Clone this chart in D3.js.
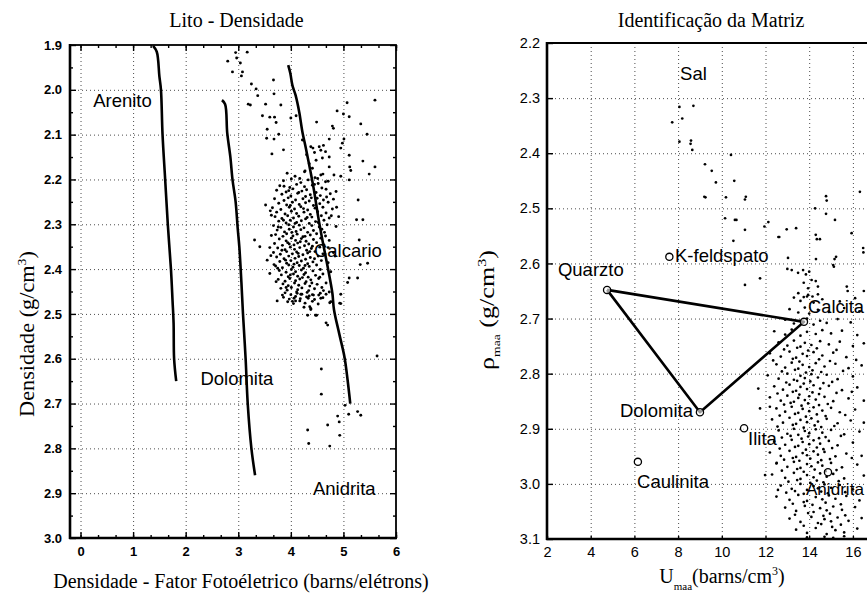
<!DOCTYPE html>
<html><head><meta charset="utf-8">
<script src="https://cdn.jsdelivr.net/npm/d3@7"></script>
<style>body{margin:0;background:#fff} svg{display:block}</style>
</head><body>
<svg id="c" width="867" height="596"></svg>
<script>
// ---------------- DATA ----------------
const leftXTicks = [0,1,2,3,4,5,6];
const leftYTicks = [1.9,2.0,2.1,2.2,2.3,2.4,2.5,2.6,2.7,2.8,2.9,3.0];
const rightXTicks = [2,4,6,8,10,12,14,16];
const rightYTicks = [2.2,2.3,2.4,2.5,2.6,2.7,2.8,2.9,3.0,3.1];

// Lithology lines (Pe, density)
const arenitoLine = [[1.38,1.902],[1.45,1.915],[1.50,1.97],[1.53,2.00],[1.56,2.10],[1.61,2.20],[1.66,2.30],[1.72,2.40],[1.75,2.47],[1.77,2.52],[1.78,2.60],[1.82,2.65]];
const dolomitaLine = [[2.69,2.023],[2.75,2.032],[2.79,2.096],[2.85,2.15],[2.89,2.20],[2.95,2.25],[2.99,2.31],[3.02,2.35],[3.06,2.43],[3.09,2.50],[3.14,2.60],[3.18,2.70],[3.25,2.80],[3.32,2.86]];
const calcarioLine = [[3.95,1.945],[3.99,1.963],[4.03,1.99],[4.09,2.012],[4.16,2.05],[4.22,2.094],[4.28,2.127],[4.37,2.18],[4.44,2.224],[4.52,2.283],[4.60,2.335],[4.70,2.395],[4.79,2.454],[4.82,2.49],[4.92,2.544],[5.02,2.596],[5.08,2.648],[5.13,2.70]];

const leftLabels = [
  {t:"Arenito", x:0.24, y:2.038},
  {t:"Dolomita", x:2.28, y:2.659},
  {t:"Calcario", x:4.44, y:2.373},
  {t:"Anidrita", x:4.42, y:2.904}
];

// Left scatter: Pe (x), density (y)
const leftSparse = [[2.95,1.917],[3.17,1.916],[2.80,1.936],[2.97,1.929],[3.04,1.94],[2.89,1.96],[3.08,1.96],[3.06,1.969],[3.25,1.987],[3.34,1.998],[3.67,1.978],[3.37,2.013],[3.68,2.009],[3.19,2.032],[3.23,2.034],[3.52,2.032],[3.81,2.034],[3.46,2.058],[3.60,2.061],[3.69,2.061],[3.72,2.073],[3.55,2.088],[3.54,2.108],[3.68,2.110],[3.77,2.099],[3.64,2.143],[3.86,2.134],
[4.49,2.072],[4.88,2.047],[5.07,2.029],[5.00,2.054],[5.11,2.060],[5.33,2.076],[5.60,2.023],[5.45,2.099],[4.79,2.081],[4.81,2.086],[4.73,2.110],[5.01,2.110],[4.98,2.119],[4.95,2.130],[5.11,2.146],[5.37,2.159],[5.60,2.172],[5.12,2.172],[5.49,2.188],[5.14,2.180],[5.11,2.201],[5.28,2.246],[5.25,2.29],[5.37,2.29],[5.30,2.335],[5.46,2.387],[5.32,2.39],[5.27,2.42],[5.11,2.42],[5.08,2.43],[4.00,2.063],[4.10,2.058],
[4.22,2.112],[4.38,2.127],[4.42,2.13],[4.54,2.127],[4.57,2.135],[4.62,2.124],[4.66,2.138],[4.73,2.15],[4.60,2.152],[4.48,2.157],[4.35,2.165],[4.41,2.175],[4.26,2.183],[4.57,2.19],[4.51,2.198],[4.73,2.172],[4.82,2.19],[4.95,2.193],[4.66,2.205],[4.30,2.145],[4.45,2.14],
[3.74,2.471],[4.09,2.471],[4.36,2.484],[4.38,2.49],[4.32,2.503],[4.49,2.503],[4.74,2.475],[4.93,2.476],[4.67,2.52],[4.70,2.525],[4.58,2.623],[4.58,2.679],[4.89,2.728],[4.92,2.741],[4.70,2.748],[5.10,2.724],[5.27,2.718],[5.33,2.726],[5.03,2.704],[4.32,2.759],[4.34,2.789],[4.74,2.795],[4.93,2.771],[5.64,2.594],
[3.84,2.458],[4.06,2.465],[4.19,2.456],[4.35,2.46],[4.41,2.457],[4.53,2.458],[4.57,2.465],[4.67,2.456],[4.76,2.473],[4.95,2.456],[4.95,2.477],[4.47,2.503],[4.38,2.488],
[3.31,2.335],[3.41,2.35],[3.52,2.257],[3.61,2.27],[3.63,2.28],[3.55,2.38],[3.62,2.37],[3.60,2.41],[3.68,2.39]];

const leftBlob = [[3.93,2.186],[4.08,2.193],[4.27,2.181],[4.46,2.196],[4.61,2.188],
[3.86,2.203],[4.01,2.199],[4.19,2.207],[4.33,2.201],[4.52,2.209],[4.71,2.204],
[3.79,2.214],[3.98,2.218],[4.11,2.211],[4.26,2.216],[4.41,2.213],[4.59,2.219],
[3.73,2.224],[3.91,2.228],[4.04,2.221],[4.21,2.226],[4.30,2.223],[4.48,2.229],[4.67,2.222],[4.86,2.227],
[3.83,2.233],[4.00,2.237],[4.13,2.231],[4.28,2.238],[4.37,2.234],[4.56,2.236],[4.75,2.232],
[3.69,2.243],[3.87,2.247],[3.95,2.241],[4.09,2.246],[4.23,2.243],[4.35,2.248],[4.50,2.242],[4.62,2.246],[4.81,2.244],
[3.77,2.253],[3.92,2.257],[4.03,2.251],[4.16,2.256],[4.28,2.252],[4.43,2.258],[4.55,2.254],[4.71,2.251],
[3.65,2.263],[3.81,2.267],[3.97,2.262],[4.07,2.266],[4.19,2.261],[4.32,2.268],[4.46,2.264],[4.61,2.262],[4.79,2.266],
[3.73,2.273],[3.89,2.277],[4.01,2.271],[4.11,2.276],[4.25,2.273],[4.37,2.278],[4.51,2.272],[4.67,2.275],
[3.70,2.283],[3.83,2.287],[3.94,2.281],[4.05,2.286],[4.15,2.282],[4.28,2.288],[4.40,2.284],[4.58,2.281],[4.73,2.286],[4.91,2.283],
[3.77,2.293],[3.91,2.297],[3.99,2.291],[4.11,2.296],[4.20,2.292],[4.35,2.298],[4.47,2.294],[4.63,2.291],
[3.67,2.303],[3.81,2.307],[3.96,2.301],[4.05,2.306],[4.16,2.302],[4.25,2.308],[4.40,2.303],[4.54,2.306],[4.69,2.301],[4.86,2.305],
[3.74,2.313],[3.88,2.317],[3.97,2.311],[4.10,2.316],[4.19,2.312],[4.32,2.318],[4.43,2.314],[4.59,2.311],
[3.71,2.323],[3.85,2.327],[3.92,2.321],[4.04,2.326],[4.12,2.322],[4.23,2.328],[4.37,2.324],[4.49,2.321],[4.66,2.326],
[3.78,2.333],[3.91,2.337],[4.01,2.331],[4.09,2.336],[4.20,2.332],[4.29,2.338],[4.43,2.334],[4.57,2.331],[4.73,2.336],
[3.69,2.343],[3.84,2.347],[3.94,2.341],[4.06,2.346],[4.13,2.342],[4.26,2.348],[4.34,2.344],[4.49,2.341],[4.63,2.346],
[3.75,2.353],[3.89,2.357],[3.99,2.351],[4.07,2.356],[4.17,2.352],[4.30,2.358],[4.39,2.354],[4.55,2.351],
[3.67,2.363],[3.80,2.367],[3.92,2.361],[4.03,2.366],[4.11,2.362],[4.23,2.368],[4.32,2.364],[4.46,2.361],[4.61,2.366],[4.81,2.363],
[3.73,2.373],[3.87,2.377],[3.96,2.371],[4.08,2.376],[4.15,2.372],[4.28,2.378],[4.37,2.374],[4.52,2.371],
[3.79,2.383],[3.92,2.387],[4.00,2.381],[4.12,2.386],[4.20,2.382],[4.32,2.388],[4.42,2.384],[4.58,2.381],[4.71,2.386],
[3.71,2.393],[3.84,2.397],[3.96,2.391],[4.04,2.396],[4.16,2.392],[4.24,2.398],[4.35,2.394],[4.49,2.391],
[3.78,2.403],[3.91,2.407],[4.01,2.401],[4.09,2.406],[4.20,2.402],[4.28,2.408],[4.42,2.404],[4.56,2.401],[4.76,2.406],
[3.82,2.413],[3.95,2.417],[4.05,2.411],[4.13,2.416],[4.25,2.412],[4.33,2.418],[4.47,2.414],[4.61,2.411],
[3.76,2.423],[3.89,2.427],[3.98,2.421],[4.09,2.426],[4.17,2.422],[4.29,2.428],[4.38,2.424],[4.53,2.421],
[3.85,2.433],[3.95,2.437],[4.07,2.431],[4.15,2.436],[4.27,2.432],[4.36,2.438],[4.50,2.434],[4.67,2.431],
[3.81,2.443],[3.93,2.447],[4.01,2.441],[4.13,2.446],[4.21,2.442],[4.34,2.448],[4.45,2.444],[4.59,2.441],
[3.89,2.453],[4.00,2.457],[4.11,2.451],[4.21,2.456],[4.31,2.452],[4.43,2.458],[4.56,2.454],[4.73,2.451],
[3.86,2.463],[3.97,2.467],[4.09,2.461],[4.18,2.466],[4.30,2.462],[4.45,2.468],[4.61,2.464],
[3.94,2.473],[4.05,2.477],[4.17,2.471],[4.27,2.476],[4.41,2.472],[4.52,2.478],
[3.87,2.215],[4.15,2.229],[4.39,2.241],[3.99,2.258],[4.24,2.265],[3.86,2.291],[4.08,2.298],[4.31,2.285],[4.52,2.296],[3.76,2.306],[4.02,2.318],[4.27,2.327],[3.97,2.344],[4.18,2.339],[4.41,2.349],[3.83,2.358],[4.14,2.365],[4.36,2.361],[3.90,2.380],[4.06,2.389],[4.27,2.392],[4.45,2.377],[3.75,2.398],[3.99,2.413],[4.22,2.419],[4.40,2.431],[3.91,2.441],[4.12,2.454],[4.33,2.465],[4.03,2.472],[4.64,2.318],[4.71,2.352],[4.77,2.281],[4.84,2.371],[4.55,2.418],[3.63,2.325],[3.60,2.352],[4.87,2.262],[4.68,2.239],[3.72,2.428],[4.62,2.448],[4.25,2.485],[3.96,2.225],[4.45,2.211],[4.17,2.198]];

// Right chart: matrix minerals (Umaa, rho_maa)
const minerals = [
  {n:"Quarzto", x:4.75, y:2.648},
  {n:"K-feldspato", x:7.6, y:2.588},
  {n:"Calcita", x:13.76, y:2.706},
  {n:"Dolomita", x:9.0, y:2.87},
  {n:"Ilita", x:11.02, y:2.899},
  {n:"Caulinita", x:6.16, y:2.96},
  {n:"Anidrita", x:14.86, y:2.979}
];
const triangleOrder = ["Quarzto","Calcita","Dolomita","Quarzto"];
const rightLabels = [
  {t:"Sal", x:8.09, y:2.267},
  {t:"K-feldspato", x:7.86, y:2.597},
  {t:"Quarzto", x:2.50, y:2.623},
  {t:"Calcita", x:13.95, y:2.690},
  {t:"Dolomita", x:5.34, y:2.879},
  {t:"Ilita", x:11.2, y:2.930},
  {t:"Caulinita", x:6.12, y:3.008},
  {t:"Anidrita", x:13.85, y:3.020}
];

const rightSparse = [[8.06,2.316],[8.70,2.314],[7.73,2.344],[8.19,2.337],[8.06,2.379],[8.59,2.377],[8.65,2.394],[8.57,2.383],[9.23,2.42],[9.54,2.432],[9.73,2.453],[10.42,2.403],[10.57,2.45],[9.20,2.479],[9.25,2.48],[10.19,2.48],[11.06,2.484],[11.10,2.479],[10.15,2.518],[10.60,2.521],[10.67,2.521],[11.06,2.539],[10.53,2.559],[11.95,2.533],[12.13,2.525],[12.59,2.552],[12.97,2.538],[14.30,2.548],[14.35,2.556],[14.27,2.50],[14.77,2.478],[14.77,2.51],[15.18,2.521],[15.94,2.545],[16.32,2.47],[16.47,2.572],[11.06,2.639],[11.75,2.627],[13.03,2.59],[13.0,2.61],[13.2,2.612],[13.49,2.617],[13.72,2.612],[13.85,2.62],[14.0,2.615],[14.11,2.63],[14.3,2.632],[13.75,2.635],[13.95,2.645],[14.40,2.642],[14.31,2.592],[15.13,2.606],[15.16,2.592],[15.72,2.642],[15.76,2.65],[16.5,2.65],[13.40,2.536],[12.63,2.552],[14.49,2.556],[15.23,2.588],[15.1,2.603],[16.48,2.58],[14.80,2.486],
[13.5,2.654],[13.75,2.661],[13.95,2.657],[14.15,2.660],[14.4,2.656],
[11.67,2.827],[11.75,2.863],[11.98,2.984],[12.57,3.011],[12.51,2.962],[12.2,2.86]];

const rightCloud = [[13.3,2.662],[13.6,2.668],[13.9,2.660],[14.2,2.671],[14.6,2.665],[15.4,2.669],[16.1,2.663],
[13.1,2.683],[13.5,2.689],[13.8,2.680],[14.0,2.691],[14.4,2.684],[14.9,2.688],[15.6,2.681],[16.3,2.687],
[12.9,2.702],[13.3,2.709],[13.9,2.700],[14.2,2.711],[14.5,2.704],[14.8,2.708],[15.3,2.701],[15.9,2.707],
[12.4,2.723],[12.9,2.729],[13.2,2.720],[13.6,2.731],[13.9,2.724],[14.3,2.728],[14.6,2.721],[15.0,2.727],[15.5,2.722],[16.2,2.730],
[12.6,2.743],[13.0,2.749],[13.3,2.740],[13.6,2.751],[13.8,2.744],[14.1,2.748],[14.5,2.741],[14.9,2.747],[15.4,2.742],[16.0,2.750],[16.5,2.745],
[12.2,2.763],[12.7,2.769],[13.1,2.760],[13.4,2.771],[13.7,2.764],[13.9,2.768],[14.2,2.761],[14.6,2.767],[15.1,2.762],[15.7,2.770],
[12.5,2.783],[12.9,2.789],[13.2,2.780],[13.5,2.791],[13.7,2.784],[14.0,2.788],[14.3,2.781],[14.7,2.787],[15.2,2.782],[15.8,2.790],[16.4,2.785],
[12.1,2.803],[12.6,2.809],[13.0,2.800],[13.3,2.811],[13.6,2.804],[13.8,2.808],[14.1,2.801],[14.4,2.807],[14.8,2.802],[15.3,2.810],[16.0,2.805],
[12.4,2.823],[12.8,2.829],[13.1,2.820],[13.4,2.831],[13.6,2.824],[13.9,2.828],[14.2,2.821],[14.5,2.827],[14.9,2.822],[15.5,2.830],[16.2,2.825],
[12.2,2.843],[12.7,2.849],[13.0,2.840],[13.3,2.851],[13.5,2.844],[13.8,2.848],[14.0,2.841],[14.3,2.847],[14.7,2.842],[15.1,2.850],[15.8,2.845],[16.5,2.849],
[12.5,2.863],[12.9,2.869],[13.2,2.860],[13.5,2.871],[13.7,2.864],[14.0,2.868],[14.2,2.861],[14.6,2.867],[15.0,2.862],[15.4,2.870],[16.1,2.865],
[12.3,2.883],[12.8,2.889],[13.1,2.880],[13.4,2.891],[13.6,2.884],[13.9,2.888],[14.1,2.881],[14.4,2.887],[14.8,2.882],[15.3,2.890],[15.9,2.885],[16.5,2.889],
[12.6,2.903],[13.0,2.909],[13.3,2.900],[13.5,2.911],[13.8,2.904],[14.0,2.908],[14.3,2.901],[14.6,2.907],[15.0,2.902],[15.6,2.910],[16.3,2.905],
[12.4,2.923],[12.9,2.929],[13.2,2.920],[13.5,2.931],[13.7,2.924],[14.0,2.928],[14.2,2.921],[14.5,2.927],[14.9,2.922],[15.3,2.930],[16.0,2.925],
[12.2,2.943],[12.7,2.949],[13.1,2.940],[13.4,2.951],[13.7,2.944],[13.9,2.948],[14.2,2.941],[14.4,2.947],[14.7,2.942],[15.2,2.950],[15.7,2.945],[16.4,2.949],
[12.5,2.963],[13.0,2.969],[13.3,2.960],[13.6,2.971],[13.9,2.964],[14.1,2.968],[14.4,2.961],[14.6,2.967],[15.0,2.962],[15.5,2.970],[16.2,2.965],
[12.3,2.983],[12.9,2.989],[13.3,2.980],[13.6,2.991],[13.9,2.984],[14.2,2.988],[14.5,2.981],[14.8,2.987],[15.1,2.982],[15.6,2.990],[16.5,2.985],
[12.7,3.003],[13.2,3.009],[13.6,3.000],[13.9,3.011],[14.2,3.004],[14.4,3.008],[14.7,3.001],[15.0,3.007],[15.4,3.002],[16.0,3.010],
[12.5,3.023],[13.1,3.029],[13.5,3.020],[13.9,3.031],[14.3,3.024],[14.6,3.028],[14.9,3.021],[15.2,3.027],[15.7,3.022],[16.3,3.030],
[12.9,3.043],[13.4,3.049],[13.8,3.040],[14.2,3.051],[14.5,3.044],[14.8,3.048],[15.1,3.041],[15.5,3.047],[16.1,3.042],
[13.1,3.063],[13.6,3.069],[14.1,3.060],[14.4,3.071],[14.7,3.064],[15.0,3.068],[15.3,3.061],[15.8,3.067],[16.4,3.062],
[13.4,3.083],[13.9,3.089],[14.3,3.080],[14.8,3.091],[15.2,3.084],[15.6,3.088],[16.2,3.081],
[13.9,3.097],[14.7,3.096],[15.1,3.098],[15.6,3.095],
[12.85,2.756],[13.45,2.753],[13.95,2.758],[14.35,2.754],[15.25,2.757],
[12.35,2.776],[13.25,2.773],[13.55,2.778],[14.45,2.774],[14.95,2.777],[16.15,2.775],
[12.75,2.796],[13.35,2.793],[13.85,2.798],[14.15,2.794],[14.55,2.797],[15.55,2.795],
[12.95,2.816],[13.45,2.813],[13.75,2.818],[14.05,2.814],[14.65,2.817],[15.05,2.815],
[12.55,2.836],[13.25,2.833],[13.55,2.838],[14.15,2.834],[14.45,2.837],[15.25,2.835],[15.95,2.833],
[12.85,2.856],[13.15,2.853],[13.65,2.858],[13.95,2.854],[14.45,2.857],[14.85,2.855],
[12.65,2.876],[13.35,2.873],[13.85,2.878],[14.35,2.874],[14.75,2.877],[15.65,2.875],
[12.55,2.896],[13.25,2.893],[13.75,2.898],[14.25,2.894],[14.55,2.897],[15.15,2.895],
[12.75,2.916],[13.15,2.913],[13.65,2.918],[13.95,2.914],[14.45,2.917],[14.75,2.915],[15.45,2.913],
[12.65,2.936],[13.35,2.933],[13.85,2.938],[14.35,2.934],[14.65,2.937],[15.05,2.935],
[12.85,2.956],[13.25,2.953],[13.55,2.958],[14.05,2.954],[14.55,2.957],[14.95,2.955],[15.95,2.953],
[12.75,2.976],[13.45,2.973],[13.75,2.978],[14.25,2.974],[14.75,2.977],[15.25,2.975],
[13.05,2.996],[13.45,2.993],[14.05,2.998],[14.35,2.994],[14.65,2.997],[15.35,2.995],
[12.95,3.016],[13.35,3.013],[13.75,3.018],[14.55,3.014],[14.85,3.017],[15.65,3.015],
[13.25,3.036],[13.75,3.033],[14.15,3.038],[14.75,3.034],[15.45,3.037],
[13.35,3.056],[13.95,3.053],[14.65,3.058],[14.95,3.054],[15.65,3.057],
[13.75,3.076],[14.55,3.073],[15.05,3.078],[15.45,3.074]];

// ---------------- DRAW ----------------
const SERIF = "'Liberation Serif','Times New Roman',serif";
const SANS = "'Liberation Sans',Arial,sans-serif";
const svg = d3.select("#c");

const xL = d3.scaleLinear().domain([-0.2,6]).range([70,396]);
const yL = d3.scaleLinear().domain([1.9,3.0]).range([45,538]);
const xR = d3.scaleLinear().domain([2,18]).range([547,896.6]);
const yR = d3.scaleLinear().domain([2.2,3.1]).range([43,539]);

function grid(g, xs, ys, xv, yv){
  const gg = g.append("g").attr("stroke","#222").attr("stroke-width",1).attr("stroke-dasharray","1,3").attr("opacity",0.8);
  gg.selectAll(".gv").data(xv).join("line")
    .attr("x1",d=>xs(d)+0.5).attr("x2",d=>xs(d)+0.5).attr("y1",ys.range()[0]).attr("y2",ys.range()[1]);
  gg.selectAll(".gh").data(yv).join("line")
    .attr("y1",d=>ys(d)+0.5).attr("y2",d=>ys(d)+0.5).attr("x1",xs.range()[0]).attr("x2",Math.min(xs.range()[1],867));
}
function clean(sel){ sel.select(".domain").remove(); }
// shrink any label that would run past the right edge of the picture
function fitRight(sel, maxX){
  sel.each(function(){
    const el = d3.select(this);
    const x = +el.attr("x");
    const w = this.getComputedTextLength();
    if (x + w > maxX) {
      const fs = +el.attr("font-size");
      el.attr("font-size", (fs * (maxX - x) / w).toFixed(2));
    }
  });
}

// ===== LEFT CHART =====
const gL = svg.append("g");
grid(gL, xL, yL, [0,1,2,3,4,5], [2.0,2.1,2.2,2.3,2.4,2.5,2.6,2.7,2.8,2.9]);

gL.selectAll(".ll").data(leftLabels).join("text")
  .attr("x",d=>xL(d.x)).attr("y",d=>yL(d.y))
  .attr("font-family",SANS).attr("font-size",18.5).text(d=>d.t);

const lineL = d3.line().x(d=>xL(d[0])).y(d=>yL(d[1])).curve(d3.curveCatmullRom);
[arenitoLine, dolomitaLine, calcarioLine].forEach(a=>{
  gL.append("path").attr("d",lineL(a)).attr("fill","none").attr("stroke","#000").attr("stroke-width",2.6);
});

gL.selectAll(".dl").data(leftSparse.concat(leftBlob)).join("circle")
  .attr("cx",d=>xL(d[0])).attr("cy",d=>yL(d[1])).attr("r",1.45).attr("fill","#000");

const yMinorL = d3.range(1.95,3.0,0.1);
const xMinorL = d3.range(0,6.001,1/3);
const axL = gL.append("g").attr("transform","translate(70,0)")
  .call(d3.axisLeft(yL).tickValues(leftYTicks).tickSize(-6).tickPadding(8).tickFormat(d3.format(".1f")));
clean(axL);
axL.selectAll("text").attr("font-family",SANS).attr("font-size",13).attr("font-weight","bold");
const axLm = gL.append("g").attr("transform","translate(70,0)").call(d3.axisLeft(yL).tickValues(yMinorL).tickSize(-3).tickFormat(""));
clean(axLm);
const axRr = gL.append("g").attr("transform","translate(396,0)").call(d3.axisRight(yL).tickValues(leftYTicks).tickSize(-6).tickFormat(""));
clean(axRr);
const axRrm = gL.append("g").attr("transform","translate(396,0)").call(d3.axisRight(yL).tickValues(yMinorL).tickSize(-3).tickFormat(""));
clean(axRrm);
const axB = gL.append("g").attr("transform","translate(0,538)")
  .call(d3.axisBottom(xL).tickValues(leftXTicks).tickSize(-6).tickPadding(9).tickFormat(d3.format("d")));
clean(axB);
axB.selectAll("text").attr("font-family",SANS).attr("font-size",13).attr("font-weight","bold");
const axBm = gL.append("g").attr("transform","translate(0,538)").call(d3.axisBottom(xL).tickValues(xMinorL).tickSize(-3).tickFormat(""));
clean(axBm);
const axT = gL.append("g").attr("transform","translate(0,45)").call(d3.axisTop(xL).tickValues(leftXTicks).tickSize(-6).tickFormat(""));
clean(axT);
const axTm = gL.append("g").attr("transform","translate(0,45)").call(d3.axisTop(xL).tickValues(xMinorL).tickSize(-3).tickFormat(""));
clean(axTm);
gL.selectAll(".tick line").attr("stroke","#000").attr("stroke-width",1.4);

gL.append("rect").attr("x",70).attr("y",45).attr("width",326).attr("height",493)
  .attr("fill","none").attr("stroke","#000").attr("stroke-width",1.8);
gL.append("line").attr("x1",70).attr("x2",70).attr("y1",44).attr("y2",539).attr("stroke","#000").attr("stroke-width",2.6);
gL.append("line").attr("x1",69).attr("x2",397).attr("y1",538).attr("y2",538).attr("stroke","#000").attr("stroke-width",2.4);

gL.append("text").attr("x",236.5).attr("y",27).attr("text-anchor","middle")
  .attr("font-family",SERIF).attr("font-size",20).text("Lito - Densidade");
gL.append("text").attr("x",241).attr("y",588).attr("text-anchor","middle")
  .attr("font-family",SERIF).attr("font-size",20).text("Densidade - Fator Fotoéletrico (barns/elétrons)");

function vlabel(x, y, target, build){
  const t = svg.append("text").attr("text-anchor","middle").attr("font-family",SERIF).attr("font-size",21);
  build(t);
  const len = t.node().getComputedTextLength();
  t.attr("transform",`translate(${x},${y}) rotate(-90) scale(${target/len},1)`);
}
vlabel(34, 334, 166, t=>{
  t.append("tspan").text("Densidade (g/cm");
  t.append("tspan").attr("font-size",13).attr("dy",-8).text("3");
  t.append("tspan").attr("dy",8).text(")");
});

// ===== RIGHT CHART =====
const gR = svg.append("g");
grid(gR, xR, yR, [4,6,8,10,12,14,16], [2.3,2.4,2.5,2.6,2.7,2.8,2.9,3.0]);

const rl = gR.selectAll(".rl").data(rightLabels).join("text")
  .attr("x",d=>xR(d.x)).attr("y",d=>yR(d.y))
  .attr("font-family",SANS).attr("font-size",18.5).text(d=>d.t);
fitRight(rl, 864);

const mById = Object.fromEntries(minerals.map(m=>[m.n,m]));
const lineR = d3.line().x(d=>xR(d.x)).y(d=>yR(d.y));
gR.append("path").attr("d",lineR(triangleOrder.map(n=>mById[n])))
  .attr("fill","none").attr("stroke","#000").attr("stroke-width",2.6).attr("stroke-linejoin","round");

gR.selectAll(".dr").data(rightSparse.concat(rightCloud)).join("circle")
  .attr("cx",d=>xR(d[0])).attr("cy",d=>yR(d[1])).attr("r",1.35).attr("fill","#000");

gR.selectAll(".mk").data(minerals).join("circle")
  .attr("cx",d=>xR(d.x)).attr("cy",d=>yR(d.y)).attr("r",3.6)
  .attr("fill","#fff").attr("fill-opacity",0.6).attr("stroke","#000").attr("stroke-width",1.3);

const ayR = gR.append("g").attr("transform","translate(547,0)")
  .call(d3.axisLeft(yR).tickValues(rightYTicks).tickSize(-6).tickPadding(7).tickFormat(d3.format(".1f")));
clean(ayR);
ayR.selectAll("text").attr("font-family",SANS).attr("font-size",14.5);
const axR = gR.append("g").attr("transform","translate(0,539)")
  .call(d3.axisBottom(xR).tickValues(rightXTicks).tickSize(-3).tickPadding(8).tickFormat(d3.format("d")));
clean(axR);
axR.selectAll("text").attr("font-family",SANS).attr("font-size",14.5);
gR.selectAll(".tick line").attr("stroke","#000").attr("stroke-width",1.4);

gR.append("line").attr("x1",547).attr("x2",867).attr("y1",43).attr("y2",43).attr("stroke","#000").attr("stroke-width",2);
gR.append("line").attr("x1",547).attr("x2",547).attr("y1",42).attr("y2",540).attr("stroke","#000").attr("stroke-width",2.6);
gR.append("line").attr("x1",546).attr("x2",867).attr("y1",539).attr("y2",539).attr("stroke","#000").attr("stroke-width",2.4);

gR.append("text").attr("x",711).attr("y",27).attr("text-anchor","middle")
  .attr("font-family",SERIF).attr("font-size",20).text("Identificação da Matriz");

const xlab = gR.append("text").attr("x",722).attr("y",583).attr("text-anchor","middle")
  .attr("font-family",SERIF).attr("font-size",20);
xlab.append("tspan").text("U");
xlab.append("tspan").attr("font-size",11).attr("dy",7).text("maa");
xlab.append("tspan").attr("dy",-7).text("(barns/cm");
xlab.append("tspan").attr("font-size",12).attr("dy",-8).text("3");
xlab.append("tspan").attr("dy",8).text(")");

vlabel(494, 310, 120, t=>{
  t.append("tspan").text("ρ");
  t.append("tspan").attr("font-size",11).attr("dy",6).text("maa");
  t.append("tspan").attr("dy",-6).text(" (g/cm");
  t.append("tspan").attr("font-size",13).attr("dy",-8).text("3");
  t.append("tspan").attr("dy",8).text(")");
});
</script>
</body></html>
